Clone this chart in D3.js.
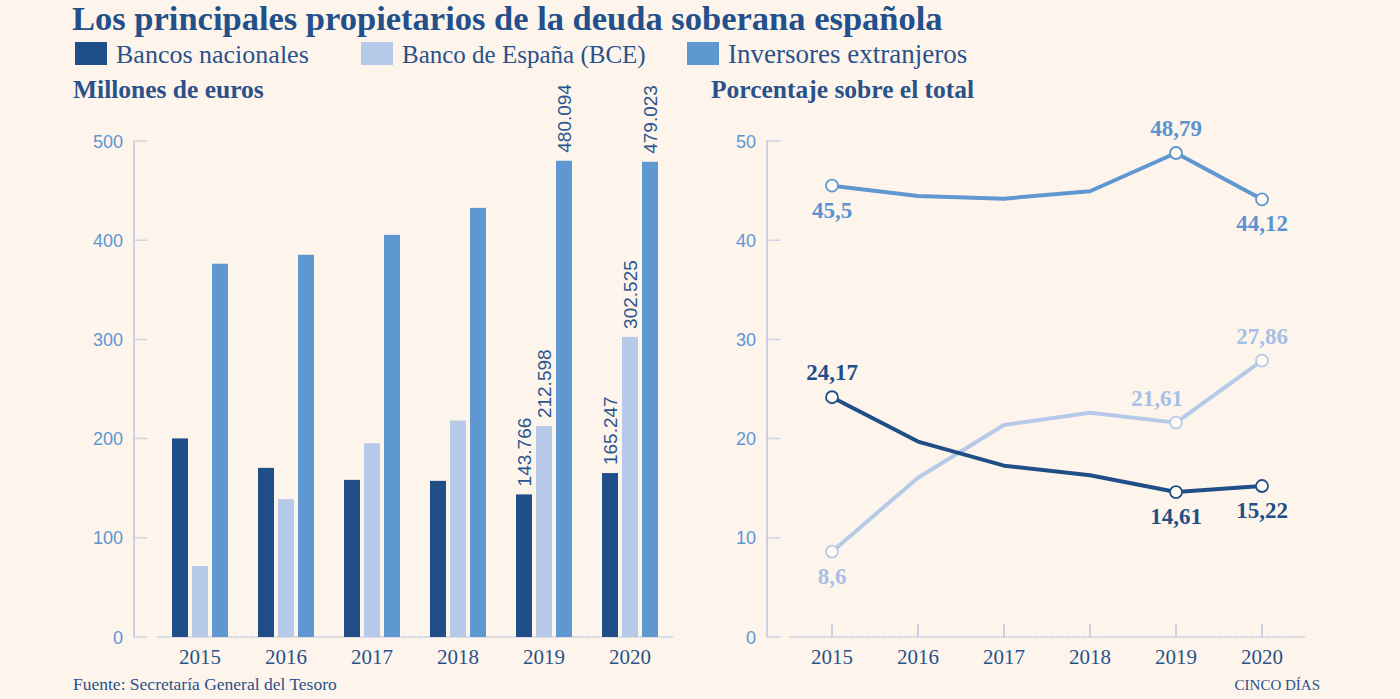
<!DOCTYPE html>
<html>
<head>
<meta charset="utf-8">
<script src="https://cdn.jsdelivr.net/npm/d3@7"></script>
<style>
  html, body { margin: 0; padding: 0; background: #fdf5ec; }
  svg { display: block; }
  .serif { font-family: "Liberation Serif", "DejaVu Serif", serif; }
  .sans { font-family: "Liberation Sans", Arial, sans-serif; }
</style>
</head>
<body>
<svg id="chart" width="1400" height="699"></svg>
<script>
// data
const years = ["2015", "2016", "2017", "2018", "2019", "2020"];
const seriesNames = ["Bancos nacionales", "Banco de España (BCE)", "Inversores extranjeros"];
const seriesColors = ["#1f4f86", "#b6c9e9", "#5f97d0"];

// miles de millones de euros
const bancosEuros = [200.2, 170.5, 158.4, 157.4, 143.766, 165.247];
const bceEuros = [71.5, 139.0, 195.3, 218.2, 212.598, 302.525];
const extranjerosEuros = [376.3, 385.3, 405.4, 432.6, 480.094, 479.023];

// porcentaje sobre el total
const bancosPct = [24.17, 19.7, 17.27, 16.3, 14.61, 15.22];
const bcePct = [8.6, 16.06, 21.37, 22.61, 21.61, 27.86];
const extranjerosPct = [45.5, 44.46, 44.19, 44.93, 48.79, 44.12];

const euroTicks = [0, 100, 200, 300, 400, 500];
const pctTicks = [0, 10, 20, 30, 40, 50];
const labeledBarYears = ["2019", "2020"];
const labeledPctYears = ["2015", "2019", "2020"];

const euroSeries = [bancosEuros, bceEuros, extranjerosEuros];
const pctSeries = [bancosPct, bcePct, extranjerosPct];

const fmtThousands = (v) => v.toFixed(3);
const fmtComma = (v) => String(v).replace(".", ",");

const svg = d3.select("#chart");
const bg = "#fdf5ec";
const axisColor = "#bcc3dc";
const tickTextColor = "#5c95d4";
const textColor = "#2a5189";

svg.append("rect").attr("width", 1400).attr("height", 699).attr("fill", bg);

// title + legend
svg.append("text")
    .attr("class", "serif")
    .attr("x", 72)
    .attr("y", 30)
    .attr("font-size", 34.5)
    .attr("font-weight", "bold")
    .attr("fill", "#23508a")
    .text("Los principales propietarios de la deuda soberana española");

const legendX = [75, 361, 687];
const legendSize = [26, 25, 27];
const legend = svg.append("g")
    .selectAll("g")
    .data(seriesNames)
    .enter()
    .append("g")
    .attr("transform", (d, i) => "translate(" + legendX[i] + ",42)");

legend.append("rect")
    .attr("width", 32)
    .attr("height", 23)
    .attr("fill", (d, i) => seriesColors[i]);

legend.append("text")
    .attr("class", "serif")
    .attr("x", 41)
    .attr("y", 21)
    .attr("font-size", (d, i) => legendSize[i])
    .attr("fill", textColor)
    .text((d) => d);

svg.append("text")
    .attr("class", "serif")
    .attr("x", 73).attr("y", 98)
    .attr("font-size", 25.5).attr("font-weight", "bold")
    .attr("fill", textColor)
    .text("Millones de euros");

svg.append("text")
    .attr("class", "serif")
    .attr("x", 711).attr("y", 98)
    .attr("font-size", 25.5).attr("font-weight", "bold")
    .attr("fill", textColor)
    .text("Porcentaje sobre el total");

// shared axis drawing
const drawYAxis = (g, y, ticks, axisX, left, right) => {
    const yr = y.range();
    g.append("line")
        .attr("x1", axisX).attr("x2", axisX)
        .attr("y1", yr[1]).attr("y2", yr[0])
        .attr("stroke", axisColor).attr("stroke-width", 1.5);

    g.append("g")
        .selectAll("line")
        .data(ticks)
        .enter()
        .append("line")
        .attr("x1", axisX).attr("x2", axisX + 13)
        .attr("y1", (d) => y(d)).attr("y2", (d) => y(d))
        .attr("stroke", axisColor).attr("stroke-width", 1.5)
        .attr("stroke-dasharray", "1.5,0.8");

    g.append("g")
        .selectAll("text")
        .data(ticks)
        .enter()
        .append("text")
        .attr("class", "sans")
        .attr("x", axisX - 11)
        .attr("y", (d) => y(d) + 6.5)
        .attr("text-anchor", "end")
        .attr("font-size", 18)
        .attr("fill", tickTextColor)
        .text((d) => d);

    g.append("line")
        .attr("x1", left).attr("x2", right)
        .attr("y1", yr[0]).attr("y2", yr[0])
        .attr("stroke", axisColor).attr("stroke-width", 1.5)
        .attr("stroke-dasharray", "1.5,0.8");
};

const drawYears = (g, xPos, yBase) => {
    g.append("g")
        .selectAll("text")
        .data(years)
        .enter()
        .append("text")
        .attr("class", "serif")
        .attr("x", (d) => xPos(d))
        .attr("y", yBase)
        .attr("text-anchor", "middle")
        .attr("font-size", 21)
        .attr("fill", textColor)
        .text((d) => d);
};

// left: bar chart
const barG = svg.append("g");
const yBar = d3.scaleLinear().domain([0, 500]).range([637, 141]);
const x0 = d3.scaleBand().domain(years).range([157, 673])
    .paddingInner(30 / 86).paddingOuter(15 / 86);
const x1 = d3.scaleBand().domain(d3.range(3)).range([0, x0.bandwidth()]).paddingInner(0.2);

drawYAxis(barG, yBar, euroTicks, 134, 157, 673);
drawYears(barG, (d) => x0(d) + x0.bandwidth() / 2, 664);

const barData = [];
years.forEach((yr, i) => {
    euroSeries.forEach((s, k) => barData.push({ year: yr, k: k, value: s[i] }));
});

barG.append("g")
    .selectAll("rect")
    .data(barData)
    .enter()
    .append("rect")
    .attr("x", (d) => x0(d.year) + x1(d.k))
    .attr("y", (d) => yBar(d.value))
    .attr("width", x1.bandwidth())
    .attr("height", (d) => yBar(0) - yBar(d.value))
    .attr("fill", (d) => seriesColors[d.k]);

barG.append("g")
    .selectAll("text")
    .data(barData.filter((d) => labeledBarYears.includes(d.year)))
    .enter()
    .append("text")
    .attr("class", "sans")
    .attr("transform", (d) => {
        const cx = x0(d.year) + x1(d.k) + x1.bandwidth() / 2 + 7;
        return "translate(" + cx + "," + (yBar(d.value) - 8) + ") rotate(-90)";
    })
    .attr("font-size", 19)
    .attr("fill", "#2b5590")
    .text((d) => fmtThousands(d.value));

// right: line chart
const lineG = svg.append("g");
const yPct = d3.scaleLinear().domain([0, 50]).range([637, 141]);
const xPct = d3.scalePoint().domain(years).range([789, 1305]).padding(0.5);

drawYAxis(lineG, yPct, pctTicks, 767, 789, 1305);
drawYears(lineG, xPct, 664);

lineG.append("g")
    .selectAll("line")
    .data(years)
    .enter()
    .append("line")
    .attr("x1", (d) => xPct(d)).attr("x2", (d) => xPct(d))
    .attr("y1", 624).attr("y2", 637)
    .attr("stroke", axisColor).attr("stroke-width", 1.5);

const line = d3.line()
    .x((d, i) => xPct(years[i]))
    .y((d) => yPct(d));

// draw order: light, dark, mid
const lineOrder = [1, 0, 2];
lineG.append("g")
    .selectAll("path")
    .data(lineOrder)
    .enter()
    .append("path")
    .attr("d", (k) => line(pctSeries[k]))
    .attr("fill", "none")
    .attr("stroke", (k) => seriesColors[k])
    .attr("stroke-width", 4)
    .attr("stroke-linejoin", "round");

const pointData = [];
lineOrder.forEach((k) => {
    years.forEach((yr, i) => {
        if (labeledPctYears.includes(yr)) pointData.push({ year: yr, k: k, value: pctSeries[k][i] });
    });
});

lineG.append("g")
    .selectAll("circle")
    .data(pointData)
    .enter()
    .append("circle")
    .attr("cx", (d) => xPct(d.year))
    .attr("cy", (d) => yPct(d.value))
    .attr("r", 6)
    .attr("fill", "#fffaf3")
    .attr("stroke", (d) => seriesColors[d.k])
    .attr("stroke-width", 1.8);

// label placement: above / below the point
const labelColors = ["#1f4f86", "#a7bfe7", "#5b93d0"];
const placeAbove = (d) => {
    if (d.k === 2) return d.year === "2019";
    if (d.k === 1) return d.year !== "2015";
    return d.year === "2015";
};

lineG.append("g")
    .selectAll("text")
    .data(pointData)
    .enter()
    .append("text")
    .attr("class", "serif")
    .attr("x", (d) => xPct(d.year) + (d.k === 1 && d.year === "2019" ? -19 : 0))
    .attr("y", (d) => yPct(d.value) + (placeAbove(d) ? -17 : 32))
    .attr("text-anchor", "middle")
    .attr("font-size", 23)
    .attr("font-weight", "bold")
    .attr("fill", (d) => labelColors[d.k])
    .text((d) => fmtComma(d.value));

// footer
svg.append("text")
    .attr("class", "serif")
    .attr("x", 73).attr("y", 690)
    .attr("font-size", 17.5)
    .attr("fill", textColor)
    .text("Fuente: Secretaría General del Tesoro");

svg.append("text")
    .attr("class", "serif")
    .attr("x", 1320).attr("y", 690)
    .attr("text-anchor", "end")
    .attr("font-size", 15)
    .attr("fill", textColor)
    .text("CINCO DÍAS");
</script>
</body>
</html>
